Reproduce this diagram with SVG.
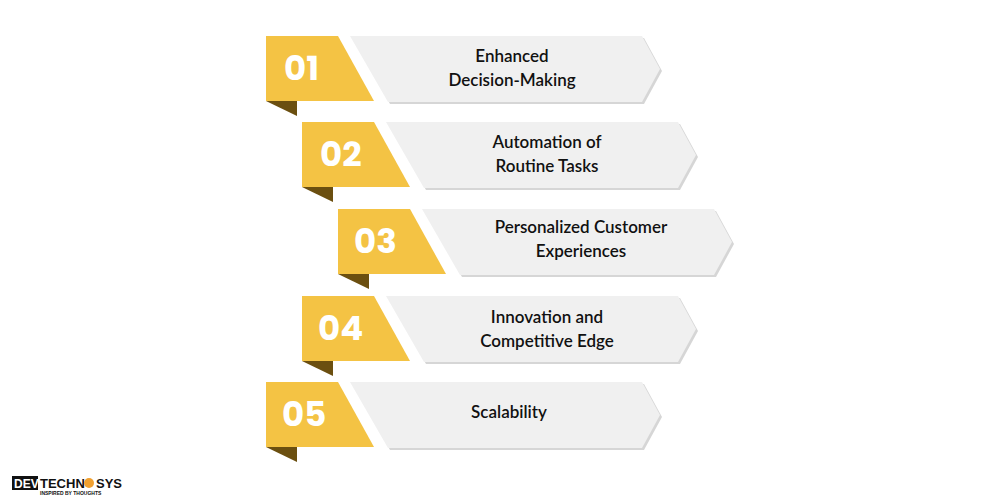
<svg xmlns="http://www.w3.org/2000/svg" width="1000" height="500" viewBox="0 0 1000 500">
<defs>
<style>
.y{fill:#f4c344}.d{fill:#6b4f10}.g{fill:#f0f0f0}.s{fill:#d6d6d6}
.n{font-family:Poppins,Lato,"Liberation Sans",sans-serif;font-weight:700;font-size:34px;fill:#fff}
.t{font-family:Lato,"Liberation Sans",sans-serif;font-weight:600;font-size:17px;fill:#111;text-anchor:middle}
</style>
<g id="row">
<polygon class="s" points="86,2 378,2 396,35 378,68 124,68"/>
<polygon class="g" points="84,0 376,0 394,33 376,66 122,66"/>
<polygon class="y" points="0,0 72,0 108,65 0,65"/>
<polygon class="d" points="0,65 31,65 31,80"/>
</g>
</defs>
<g id="n1"><use href="#row" x="266" y="36"/><text class="n" x="284" y="80">01</text><text class="t" x="512" y="62">Enhanced</text><text class="t" x="512" y="86">Decision-Making</text></g>
<g id="n2"><use href="#row" x="302" y="122"/><text class="n" x="320" y="166">02</text><text class="t" x="547" y="148">Automation of</text><text class="t" x="547" y="172">Routine Tasks</text></g>
<g id="n3"><use href="#row" x="338" y="209"/><text class="n" x="354" y="253">03</text><text class="t" x="581" y="233">Personalized Customer</text><text class="t" x="581" y="257">Experiences</text></g>
<g id="n4"><use href="#row" x="302" y="296"/><text class="n" x="318" y="340">04</text><text class="t" x="547" y="323">Innovation and</text><text class="t" x="547" y="347">Competitive Edge</text></g>
<g id="n5"><use href="#row" x="266" y="382"/><text class="n" x="282" y="426">05</text><text class="t" x="509" y="418">Scalability</text></g>
<g id="connectors"/>
<g id="logo" font-family="'Liberation Sans',sans-serif" font-weight="700">
<rect x="12" y="476" width="26" height="14" fill="#111"/>
<text x="14" y="488" font-size="12" fill="#fff">DEV</text>
<text x="40" y="488" font-size="13" fill="#111">TECHN</text>
<circle cx="89" cy="483" r="5" fill="#f0a030"/>
<text x="96" y="488" font-size="13" fill="#111">SYS</text>
<text x="40" y="495" font-size="5" fill="#111">INSPIRED BY THOUGHTS</text>
</g>
</svg>
